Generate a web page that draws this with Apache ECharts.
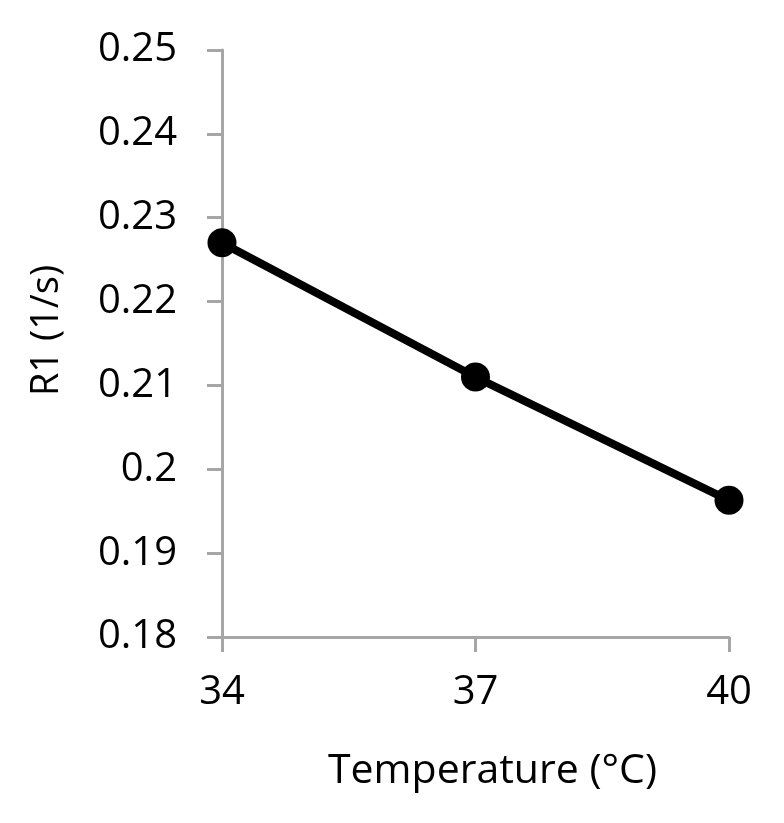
<!DOCTYPE html>
<html>
<head>
<meta charset="utf-8">
<style>
html,body{margin:0;padding:0;background:#fff;}
#chart{width:784px;height:823px;}
</style>
<script src="https://cdn.jsdelivr.net/npm/echarts@6/dist/echarts.min.js"></script>
</head>
<body>
<div id="chart"></div>
<script>
// Data
const temperatures = [34, 37, 40];
const r1Values = [0.227, 0.211, 0.1963];
const xTicks = [34, 37, 40];
const yTickLabels = ['0.18', '0.19', '0.2', '0.21', '0.22', '0.23', '0.24', '0.25'];
const xAxisTitle = 'Temperature (°C)';
const yAxisTitle = 'R1 (1/s)';

const chart = echarts.init(document.getElementById('chart'), null, {renderer: 'canvas'});
const FONT = '"Open Sans", "Noto Sans", sans-serif';
const axisGray = '#a6a6a6';

chart.setOption({
  animation: false,
  backgroundColor: '#ffffff',
  grid: {left: 222, right: 55, top: 50, bottom: 186, containLabel: false},
  xAxis: {
    type: 'value',
    min: xTicks[0],
    max: xTicks[xTicks.length - 1],
    interval: 3,
    name: xAxisTitle,
    nameLocation: 'middle',
    nameGap: 114,
    nameTextStyle: {fontFamily: FONT, fontSize: 41, color: '#000', padding: [0, 0, 0, 34]},
    axisLine: {show: true, onZero: false, lineStyle: {color: axisGray, width: 3}},
    axisTick: {show: true, inside: false, length: 15, lineStyle: {color: axisGray, width: 3}},
    axisLabel: {margin: 36, fontFamily: FONT, fontSize: 40, color: '#000'},
    splitLine: {show: false}
  },
  yAxis: {
    type: 'value',
    min: 0.18,
    max: 0.25,
    interval: 0.01,
    name: yAxisTitle,
    nameLocation: 'middle',
    nameGap: 156,
    nameRotate: 90,
    nameTextStyle: {fontFamily: FONT, fontSize: 38, color: '#000', padding: [0, 0, 0, 26]},
    axisLine: {show: true, lineStyle: {color: axisGray, width: 3}},
    axisTick: {show: true, inside: false, length: 15, lineStyle: {color: axisGray, width: 3}},
    axisLabel: {
      margin: 45, fontFamily: FONT, fontSize: 40, color: '#000',
      formatter: function (v) {
        const idx = Math.round((v - 0.18) / 0.01);
        return yTickLabels[idx] !== undefined ? yTickLabels[idx] : '';
      }
    },
    splitLine: {show: false}
  },
  series: [{
    type: 'line',
    data: temperatures.map((t, i) => [t, r1Values[i]]),
    symbol: 'circle',
    symbolSize: 29,
    lineStyle: {color: '#000', width: 8},
    itemStyle: {color: '#000'},
    clip: false
  }]
});
</script>
</body>
</html>
